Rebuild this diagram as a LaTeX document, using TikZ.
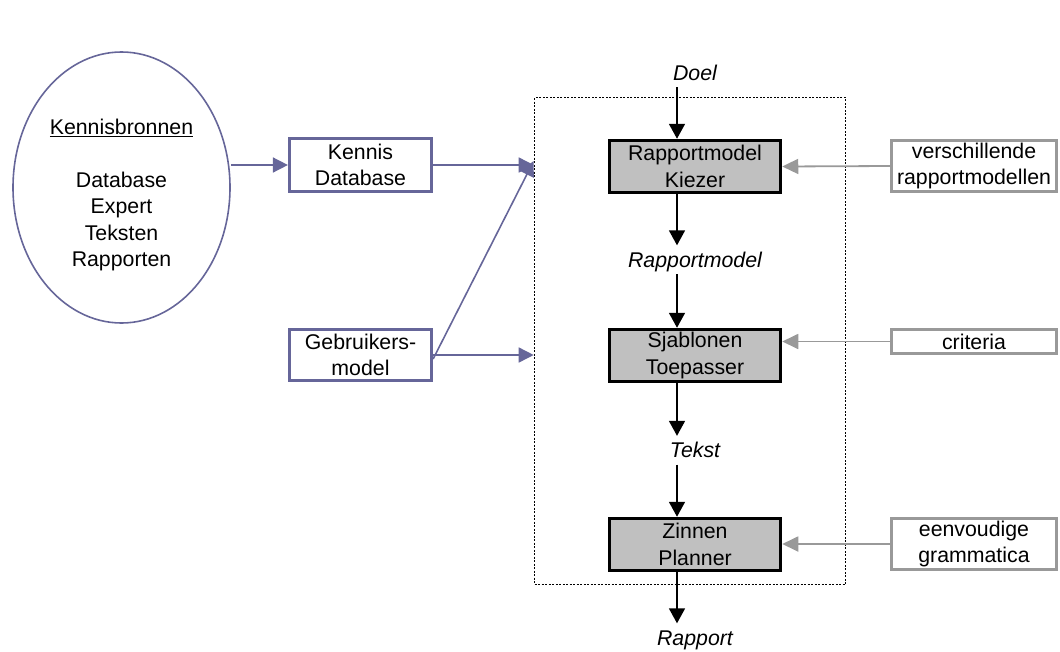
\documentclass[tikz,border=0pt]{standalone}
\usepackage{fontspec}
\setmainfont{Liberation Sans}
\usetikzlibrary{arrows.meta,shapes.geometric}
\definecolor{purp}{HTML}{666699}
\definecolor{lgray}{HTML}{999999}
\definecolor{boxfill}{HTML}{C0C0C0}
\begin{document}
\begin{tikzpicture}[x=1pt,y=-1pt,
  every node/.style={font=\fontsize{21.3}{26.5}\selectfont, inner sep=0pt},
  src/.style={draw=purp, line width=1.6pt, ellipse, minimum width=217pt, minimum height=271pt},
  inbox/.style={draw=purp, line width=3.2pt, minimum width=142pt, align=center},
  proc/.style={draw=black, line width=3.5pt, fill=boxfill, minimum width=171pt, minimum height=52pt, align=center},
  res/.style={draw=lgray, line width=3.2pt, minimum width=165pt, align=center},
  lab/.style={font=\fontsize{21.3}{26.5}\selectfont\itshape, anchor=base, text height=15.5pt, text depth=5pt},
  flow/.style={line width=1.7pt, -{Triangle[length=15pt,width=16pt]}},
  pflow/.style={draw=purp, line width=1.6pt, -{Triangle[length=15pt,width=15pt]}},
  gflow/.style={draw=lgray, line width=1.8pt, -{Triangle[length=16pt,width=15pt]}},
  frame/.style={draw, line width=1.6pt, dash pattern=on 2pt off 1.5pt, minimum width=311pt, minimum height=487pt}
]
\useasboundingbox (0,0) rectangle (1060,651);
\coordinate (ax) at (677,0);

% knowledge sources
\node[src] (src) at (121.5,187.5) {};
\node[align=center] (srctext) at (121.5,195) {\underline{Kennisbronnen}\\[26.5pt]Database\\Expert\\Teksten\\Rapporten};

\node[inbox, minimum height=53pt] (kdb) at (360.5,165) {Kennis\\Database};
\node[inbox, minimum height=51pt] (geb) at (360.5,355) {Gebruikers-\\model};

% frame
\node[frame] (frm) at (690,341) {};

% process chain
\node[lab] (doel) at (695,80) {Doel};
\node[proc] (kiezer) at (695,166.5) {Rapportmodel\\Kiezer};
\node[lab] (rm) at (695,267) {Rapportmodel};
\node[proc] (toep) at (695,355.5) {Sjablonen\\Toepasser};
\node[lab] (tekst) at (695,457.5) {Tekst};
\node[proc] (zinnen) at (695,544.5) {Zinnen\\Planner};
\node[lab] (rapport) at (695,645) {Rapport};

% resources
\node[res, minimum height=51pt] (vr) at (974,166) {verschillende\\rapportmodellen};
\node[res, minimum height=24pt] (crit) at (974,341.5) {criteria};
\node[res, minimum height=51pt] (gram) at (974,544) {eenvoudige\\grammatica};

% black flow
\draw[flow, shorten <=2pt] (doel.south -| ax) -- (kiezer.north -| ax);
\draw[flow, shorten >=6pt] (kiezer.south -| ax) -- (rm.north -| ax);
\draw[flow, shorten <=2pt] (rm.south -| ax) -- (toep.north -| ax);
\draw[flow, shorten >=6pt] (toep.south -| ax) -- (tekst.north -| ax);
\draw[flow, shorten <=2pt] (tekst.south -| ax) -- (zinnen.north -| ax);
\draw[flow, shorten >=6pt] (zinnen.south -| ax) -- (rapport.north -| ax);

% purple flow
\draw[pflow] (kdb.west -| src.east) -- (kdb.west);
\draw[pflow] (kdb.east) -- (kdb.east -| frm.west);
\draw[pflow] ([yshift=-4pt]geb.east) -- ([yshift=4pt]kdb.east -| frm.west);
\draw[pflow] (geb.east) -- (geb.east -| frm.west);

% gray flow
\draw[gflow] (vr.west) -- (kiezer.east);
\draw[gflow] (crit.west) -- (toep.east |- crit.west);
\draw[gflow] (gram.west) -- (zinnen.east |- gram.west);
\end{tikzpicture}
\end{document}
